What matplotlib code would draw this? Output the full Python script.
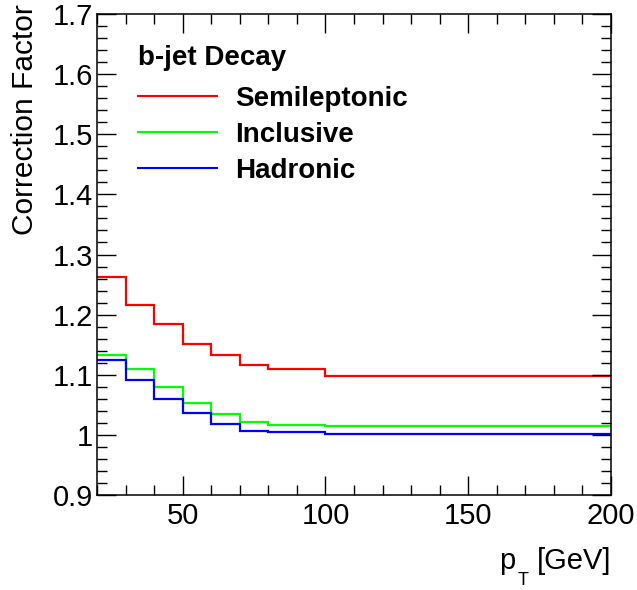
import matplotlib
matplotlib.use("Agg")
import matplotlib.pyplot as plt
from matplotlib.ticker import MultipleLocator, FuncFormatter

plt.rcParams['font.family'] = ['Liberation Sans', 'DejaVu Sans']

# bin edges in pT [GeV]
pt_edges = [20, 30, 40, 50, 60, 70, 80, 100, 200]

semileptonic = [1.263, 1.216, 1.185, 1.151, 1.133, 1.116, 1.109, 1.098]
inclusive = [1.133, 1.109, 1.079, 1.053, 1.035, 1.022, 1.017, 1.015]
hadronic = [1.125, 1.091, 1.060, 1.036, 1.018, 1.007, 1.004, 1.002]

series_names = ['Semileptonic', 'Inclusive', 'Hadronic']
series_colors = ['#ff0000', '#00ff00', '#0000ff']

W, H = 637, 590
fig = plt.figure(figsize=(W / 100, H / 100), dpi=100)
ax = fig.add_axes([97 / W, 1 - 495 / H, (611 - 97) / W, (495 - 14) / H])

for vals, name, col in zip([semileptonic, inclusive, hadronic], series_names, series_colors):
    ax.stairs(vals, pt_edges, baseline=None, color=col, linewidth=1.6, label=name)

ax.set_xlim(20, 200)
ax.set_ylim(0.9, 1.7)

ax.xaxis.set_major_locator(MultipleLocator(50))
ax.xaxis.set_minor_locator(MultipleLocator(10))
ax.yaxis.set_major_locator(MultipleLocator(0.1))
ax.yaxis.set_minor_locator(MultipleLocator(0.02))
ax.yaxis.set_major_formatter(FuncFormatter(lambda v, p: '%g' % round(v, 2)))

ax.tick_params(which='both', direction='in', top=True, right=True, labelsize=21, width=1.0)
ax.tick_params(which='major', length=14)
ax.tick_params(which='minor', length=7)
ax.tick_params(axis='x', which='major', pad=5)
ax.tick_params(axis='y', which='major', pad=3)
for sp in ax.spines.values():
    sp.set_linewidth(1.1)

fig.text(25 / W, 1 - 4 / H, 'Correction Factor', rotation=90,
         ha='center', va='top', fontsize=21.5)

# x title, ROOT style with a low subscript
fig.text(611 / W, 1 - 569 / H, '[GeV]', ha='right', va='baseline', fontsize=21)
fig.text(518 / W, 1 - 585 / H, 'T', ha='left', va='baseline', fontsize=13)
fig.text(499 / W, 1 - 569 / H, 'p', ha='left', va='baseline', fontsize=21)

leg = ax.legend(handles=[plt.Line2D([], [], color=c, lw=1.5) for c in series_colors],
                labels=series_names, title='b-jet Decay', loc='upper left',
                bbox_to_anchor=(0.080, 0.936), frameon=False, handlelength=2.85,
                handletextpad=0.65, labelspacing=0.36, borderpad=0, borderaxespad=0,
                prop={'weight': 'bold', 'size': 20},
                title_fontproperties={'weight': 'bold', 'size': 20})
leg._legend_box.align = 'left'
leg._legend_box.sep = 11

fig.savefig('out.png', dpi=100)
